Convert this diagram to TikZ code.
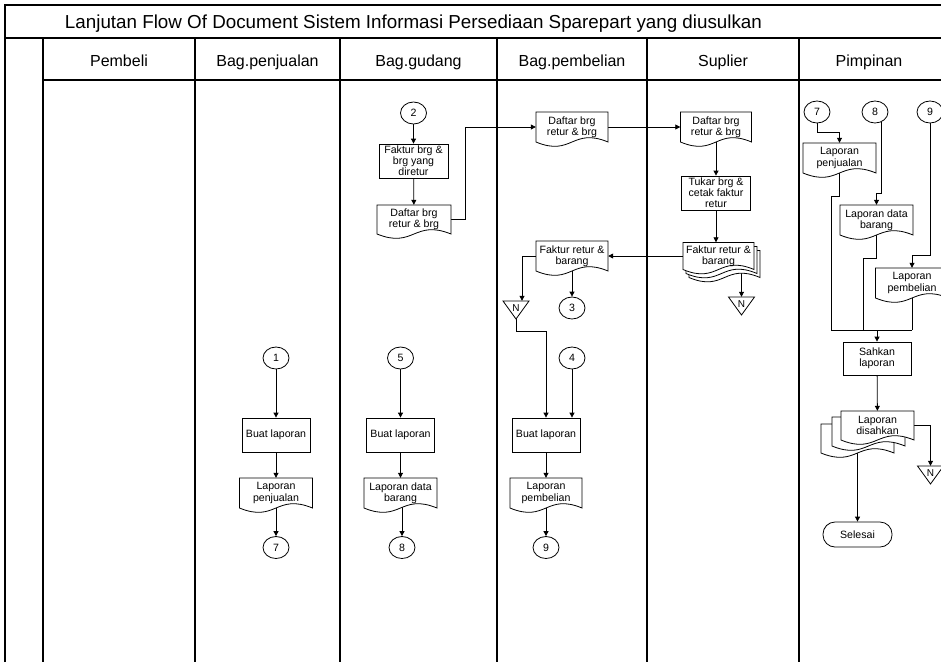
\documentclass[tikz,border=0pt]{standalone}
\usepackage{fontspec}
\setmainfont{Liberation Sans}
\usetikzlibrary{arrows.meta,shapes.geometric,backgrounds,calc}

\tikzset{
  shp/.style={draw=black, line width=0.8pt},
  smallfont/.style={font=\fontsize{10.6}{11.2}\selectfont},
  doctext/.style={inner sep=0pt, align=center, smallfont},
  proc/.style={shp, rectangle, minimum width=68pt, minimum height=34pt, inner sep=0pt, align=center, fill=white, smallfont},
  conn/.style={shp, ellipse, minimum width=26pt, minimum height=22pt, inner sep=0pt, fill=white, smallfont},
  term/.style={shp, rectangle, rounded corners=12pt, minimum width=69pt, minimum height=25pt, inner sep=0pt, fill=white, smallfont},
  offp/.style={minimum width=26pt, minimum height=18pt, inner sep=0pt, text height=7pt, text depth=5pt, font=\fontsize{10}{10}\selectfont},
  arr/.style={line width=0.8pt, -{Triangle[length=5pt,width=5pt]}},
  ln/.style={line width=0.8pt},
  frameline/.style={line width=1.1pt},
  hdr/.style={anchor=base, font=\fontsize{16}{18}\selectfont},
}

% document outline: cx, cy, w, h
\newcommand\mydocshape[4]{%
  \filldraw[shp,fill=white] ({#1-#3/2},{#2-#4/2}) -- ({#1+#3/2},{#2-#4/2}) -- ({#1+#3/2},{#2+#4/2})
    .. controls +({-#3/2},-15) and +({#3/2},15) .. ({#1-#3/2},{#2+#4/2}) -- cycle;}
% document node: name, cx, cy, w, h, text
\newcommand\mydoc[6]{%
  \mydocshape{#2}{#3}{#4}{#5}
  \node[doctext, minimum width=#4pt, minimum height=#5pt] (#1) at (#2,#3) {#6};}
% off-page triangle: name, cx, cy
\newcommand\myoff[3]{%
  \filldraw[shp,fill=white] ({#2-13},{#3-9}) -- ({#2+13},{#3-9}) -- (#2,{#3+9}) -- cycle;
  \node[offp] (#1) at (#2,#3) {N};}

\begin{document}
\begin{tikzpicture}[x=1pt,y=-1pt]
\useasboundingbox (0,0) rectangle (941,662);

% frame
\draw[frameline] (5,662) -- (5,5) -- (941,5);
\draw[frameline] (5,38) -- (941,38);
\draw[frameline] (43,80) -- (941,80);
\foreach \xx in {43,195,340,497,647,799} \draw[frameline] (\xx,38) -- (\xx,662);

\node[anchor=base, font=\fontsize{18.8}{20}\selectfont] (title) at (413.5,28) {Lanjutan Flow Of Document Sistem Informasi Persediaan Sparepart yang diusulkan};
\node[hdr] (h1) at (119,66) {Pembeli};
\node[hdr] (h2) at (267.5,66) {Bag.penjualan};
\node[hdr] (h3) at (418.5,66) {Bag.gudang};
\node[hdr] (h4) at (572,66) {Bag.pembelian};
\node[hdr] (h5) at (723,66) {Suplier};
\node[hdr] (h6) at (869,66) {Pimpinan};

% Bag.penjualan
\node[conn] (c1) at (276,358) {1};
\node[proc] (b1) at (276,435) {Buat laporan};
\mydoc{d1}{276}{493}{73}{30}{Laporan\\penjualan}
\node[conn] (c7) at (276,547.5) {7};

% Bag.gudang
\node[conn] (c2) at (413.5,113) {2};
\node[proc, minimum width=69pt] (b2) at (413.5,161) {Faktur brg \&\\brg yang\\diretur};
\mydoc{d2}{414}{219.5}{74}{29}{Daftar brg\\retur \& brg}
\node[conn] (c5) at (400.5,358) {5};
\node[proc] (b5) at (400.5,435) {Buat laporan};
\mydoc{d5}{400.5}{493}{73}{30}{Laporan data\\barang}
\node[conn] (c8) at (402,547.5) {8};

% Bag.pembelian
\mydoc{d3}{572}{127}{72}{30}{Daftar brg\\retur \& brg}
\mydoc{d6}{572}{256}{72}{30}{Faktur retur \&\\barang}
\myoff{N1}{516}{310}
\node[conn] (c3) at (572,308) {3};
\node[conn] (c4) at (572,358) {4};
\node[proc] (b6) at (546,435) {Buat laporan};
\mydoc{d8}{546}{493}{72}{30}{Laporan\\pembelian}
\node[conn] (c9) at (546,547.5) {9};

% Suplier
\mydoc{d4}{716}{127}{71}{30}{Daftar brg\\retur \& brg}
\node[proc, minimum width=69pt] (b7) at (716,193) {Tukar brg \&\\cetak faktur\\retur};
\mydocshape{724.5}{264}{71}{27}
\node[doctext, minimum width=71pt, minimum height=27pt] (d7c) at (724.5,264) {};
\mydocshape{721.5}{260}{71}{27}
\node[doctext, minimum width=71pt, minimum height=27pt] (d7b) at (721.5,260) {};
\mydoc{d7}{718.5}{256}{71}{27}{Faktur retur \&\\barang}
\myoff{N2}{741.5}{306}

% Pimpinan
\node[conn] (c7b) at (817,112) {7};
\node[conn] (c8b) at (875,112) {8};
\node[conn] (c9b) at (930,112) {9};
\mydoc{d9}{839.5}{158}{73}{30}{Laporan\\penjualan}
\mydoc{d10}{876.5}{220}{73}{30}{Laporan data\\barang}
\mydoc{d11}{912}{283}{73}{30}{Laporan\\pembelian}
\coordinate (mL) at (831,330);
\coordinate (mM) at (863,330);
\coordinate (mR) at (912,330);
\node[proc, minimum height=33pt] (b8) at (877,358.5) {Sahkan\\laporan};
\mydocshape{857.5}{438.5}{73}{29}
\node[doctext, minimum width=73pt, minimum height=29pt] (d12c) at (857.5,438.5) {};
\mydocshape{868.5}{431.5}{73}{29}
\node[doctext, minimum width=73pt, minimum height=29pt] (d12b) at (868.5,431.5) {};
\mydoc{d12}{877.5}{425.5}{73}{29}{Laporan\\disahkan}
\myoff{N3}{930.5}{475}
\node[term] (sel) at (857.5,534.5) {Selesai};

% connectors
\begin{pgfonlayer}{background}
\draw[arr] (c1) -- (b1);
\draw[arr] (b1) -- (d1);
\draw[arr] (d1) -- (c7);

\draw[arr] (c2) -- (b2);
\draw[arr] (b2) -- (d2);
\draw[arr] (d2.east) -- ++(14,0) |- (d3.west);
\draw[arr] (c5) -- (b5);
\draw[arr] (b5) -- (d5);
\draw[arr] (c8 |- d5.center) -- (c8.north);

\draw[arr] (d3.east) -- (d4.west);
\draw[arr] (d4) -- (b7);
\draw[arr] (b7.south) -- (b7.south |- d7.north);
\draw[arr] (d7.center -| N2.north) -- (N2.north);
\draw[arr] (d7.west) -- (d7.west -| d6.east);
\draw[arr] (d6.west) -| ([xshift=6pt]N1.north);
\draw[arr] (d6) -- (c3);
\draw[arr] (N1.south) -- ++(0,12) -| (b6.north);
\draw[arr] (c4) -- (c4 |- b6.north);
\draw[arr] (b6) -- (d8);
\draw[arr] (d8) -- (c9);

\draw[arr] (c7b.south) -- ++(0,9) -| (d9.north);
\draw[arr] (c8b.-60) -- ++(0,71) -| (d10.north);
\draw[arr] (c9b.south) -- ++(0,132) -| (d11.north);
\draw[ln] (d9.center) -- ++(0,38) -| (mL);
\draw[ln] (d10.center) -- ++(0,38) -| (mM);
\draw[ln] (d11.center) -- (mR);
\draw[ln] (mL) -- (mR);
\draw[arr] (b8.north |- mL) -- (b8.north);
\draw[arr] (b8) -- (d12);
\draw[arr] (d12.east) -| (N3.north);
\draw[arr] (d12c.center) -- (sel.north);
\end{pgfonlayer}
\end{tikzpicture}
\end{document}
